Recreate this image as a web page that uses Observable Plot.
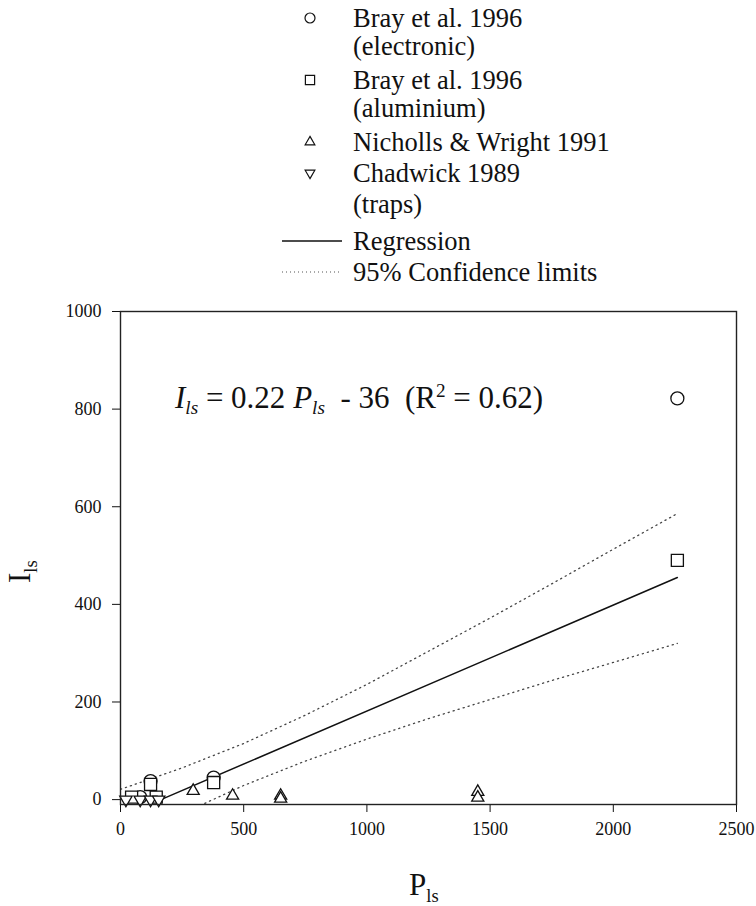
<!DOCTYPE html>
<html><head><meta charset="utf-8">
<script src="https://cdn.jsdelivr.net/npm/d3@7"></script>
<script src="https://cdn.jsdelivr.net/npm/@observablehq/plot@0.6"></script>
<style>
body{margin:0;background:#fff;}
#wrap{position:relative;width:756px;height:906px;font-family:"Liberation Serif","Times New Roman",serif;color:#111;overflow:hidden;}
.abs{position:absolute;white-space:nowrap;}
.leg{font-size:26.5px;line-height:30px;}
.eq{font-size:31px;line-height:36px;}
.eq sub{font-size:0.62em;vertical-align:-0.32em;line-height:0;}
.eq sup{font-size:0.62em;vertical-align:0.55em;line-height:0;}
.ax{font-size:31px;line-height:36px;}
.ax sub{font-size:0.6em;vertical-align:-0.35em;line-height:0;}
svg text{font-family:"Liberation Serif","Times New Roman",serif;}
</style></head><body><div id="wrap"></div>
<script>
// ---- data ----
const xTicks = [0, 500, 1000, 1500, 2000, 2500];
const yTicks = [0, 200, 400, 600, 800, 1000];

const electronicP = [80, 122, 378, 2260];
const electronicI = [5, 38, 45, 822];

const aluminiumP = [45, 145, 122, 378, 2260];
const aluminiumI = [5, 5, 31, 35, 490];

const nichollsP = [295, 455, 650, 650, 1450, 1450];
const nichollsI = [18, 8, 8, 2, 16, 4];

const chadwickP = [22, 80, 122, 155];
const chadwickI = [0, 0, 0, 0];

const regressionP = [164, 2260];
const regressionI = [0, 455];

const ciP = [0, 250, 500, 750, 1000, 1250, 1500, 1750, 2000, 2260];
const ciUpperI = [21, 65, 115, 173, 236, 304, 372, 442, 513, 586];
const ciLowerI = [-91, -29, 29, 79, 124, 166, 205, 244, 281, 320];

const legendLabels = [
  ["Bray et al. 1996", "(electronic)"],
  ["Bray et al. 1996", "(aluminium)"],
  ["Nicholls & Wright 1991"],
  ["Chadwick 1989", "(traps)"],
  ["Regression"],
  ["95% Confidence limits"]
];

// ---- helpers ----
const zip = (P, I) => P.map((p, i) => ({P: p, I: I[i]}));
const sqrt3 = Math.sqrt(3);
const triUp = {draw(c, size){ const y = -Math.sqrt(size / (sqrt3 * 3)); c.moveTo(0, y * 2); c.lineTo(-sqrt3 * y, -y); c.lineTo(sqrt3 * y, -y); c.closePath(); }};
const triDown = {draw(c, size){ const y = -Math.sqrt(size / (sqrt3 * 3)); c.moveTo(0, -y * 2); c.lineTo(-sqrt3 * y, y); c.lineTo(sqrt3 * y, y); c.closePath(); }};

const dotStyle = {x: "P", y: "I", fill: "white", stroke: "#111", strokeWidth: 1.3};

const plot = Plot.plot({
  width: 756, height: 906,
  marginLeft: 120, marginRight: 20, marginTop: 311, marginBottom: 102,
  style: {fontFamily: "Liberation Serif, Times New Roman, serif", fontSize: "18px", color: "#111", background: "transparent"},
  x: {domain: [0, 2500], ticks: xTicks, tickSize: 8, tickPadding: 10, label: null, tickFormat: d => String(d)},
  y: {domain: [-10, 1000], ticks: yTicks, tickSize: 8, tickPadding: 11, label: null, tickFormat: d => String(d)},
  marks: [
    Plot.line(zip(ciP, ciUpperI), {x: "P", y: "I", stroke: "#444", strokeWidth: 1.3, strokeDasharray: "1.2,4", clip: true}),
    Plot.line(zip(ciP, ciLowerI), {x: "P", y: "I", stroke: "#444", strokeWidth: 1.3, strokeDasharray: "1.2,4", clip: true}),
    Plot.line(zip(regressionP, regressionI), {x: "P", y: "I", stroke: "#111", strokeWidth: 1.5}),
    Plot.dot(zip(electronicP, electronicI), {...dotStyle, symbol: "circle", r: 6.5}),
    Plot.dot(zip(aluminiumP, aluminiumI), {...dotStyle, symbol: "square", r: 6.8}),
    Plot.dot(zip(nichollsP, nichollsI), {...dotStyle, symbol: triUp, r: 4.5}),
    Plot.dot(zip(chadwickP, chadwickI), {...dotStyle, symbol: triDown, r: 4.6}),
    Plot.frame({stroke: "#222", strokeWidth: 1.4})
  ]
});
plot.style.position = "absolute";
plot.style.left = "0px";
plot.style.top = "0px";
const wrap = document.getElementById("wrap");
wrap.appendChild(plot);

// ---- legend ----
function addText(html, cls, left, cy, lh) {
  const d = document.createElement("div");
  d.className = "abs " + cls;
  d.innerHTML = html;
  d.style.left = left + "px";
  d.style.top = (cy - lh / 2) + "px";
  wrap.appendChild(d);
  return d;
}
const esc = s => s.replace(/&/g, "&amp;");
const rows = [[18, 46], [80, 108], [142], [173, 204], [241], [272]];
const legSvg = d3.select(wrap).append("svg")
  .attr("width", 756).attr("height", 300)
  .style("position", "absolute").style("left", "0px").style("top", "0px");
const legSyms = [d3.symbolCircle, d3.symbolSquare, triUp, triDown];
const legSizes = [Math.PI * 5 * 5, Math.PI * 5.2 * 5.2, Math.PI * 3.6 * 3.6, Math.PI * 3.6 * 3.6];
legendLabels.forEach((lines, i) => {
  lines.forEach((t, j) => addText(esc(t), "leg", 353, rows[i][j], 30));
  const cy = rows[i][0];
  if (i < 4) {
    legSvg.append("path").attr("d", d3.symbol(legSyms[i], legSizes[i])())
      .attr("transform", `translate(310,${cy})`)
      .attr("fill", "white").attr("stroke", "#111").attr("stroke-width", 1.2);
  } else {
    legSvg.append("line").attr("x1", 282).attr("x2", 342).attr("y1", cy).attr("y2", cy)
      .attr("stroke", i === 4 ? "#111" : "#555").attr("stroke-width", i === 4 ? 1.5 : 1.2)
      .attr("stroke-dasharray", i === 4 ? null : "1,3");
  }
});

// ---- equation and axis titles ----
addText('<i>I</i><sub><i>ls</i></sub> = 0.22 <i>P</i><sub><i>ls</i></sub>&nbsp; - 36 &nbsp;(R<sup>2</sup> = 0.62)', "eq", 175, 398, 36);
addText('P<sub>ls</sub>', "ax", 409, 885, 36);
const yl = addText('I<sub>ls</sub>', "ax", 0, 565, 36);
yl.style.left = "20px";
yl.style.transformOrigin = "0 0";
yl.style.transform = "rotate(-90deg) translate(-18px,-18px)";
yl.style.top = "565px";
</script>
</body></html>
